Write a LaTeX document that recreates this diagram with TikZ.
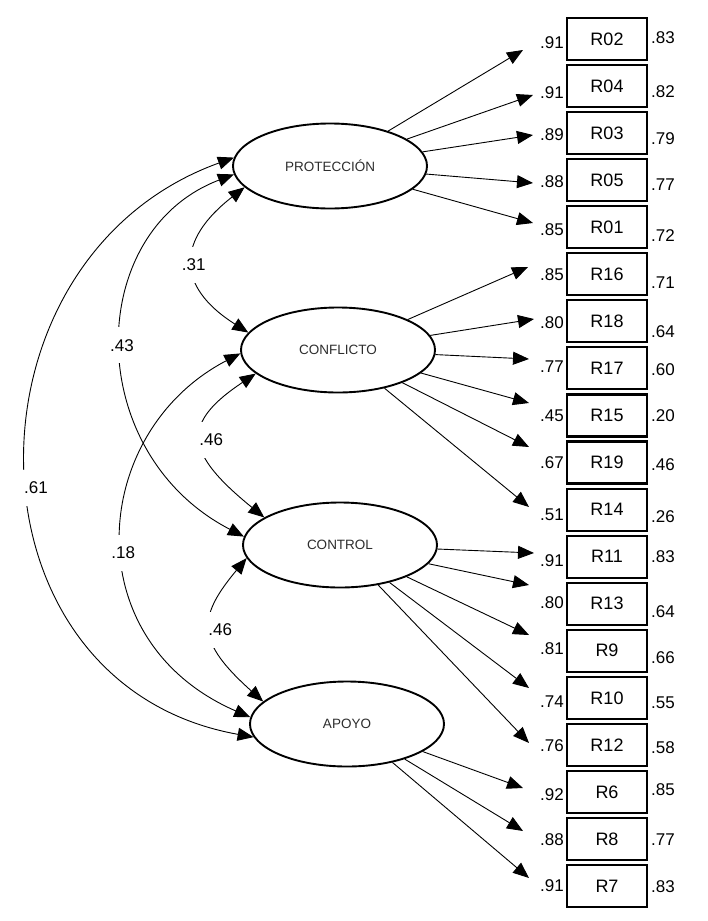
\documentclass[tikz,border=0pt]{standalone}
\usepackage{fontspec}
\setmainfont{Liberation Sans}
\usepackage{tikz}
\usetikzlibrary{arrows,arrows.meta,shapes,positioning}
\definecolor{semgray}{RGB}{45,45,45}
\tikzstyle{latent} = [ellipse, draw, line width=1.9pt, minimum width=194pt, minimum height=85pt, inner sep=0pt, text=semgray, font=\fontsize{13.5}{15}\selectfont]
\tikzstyle{item} = [rectangle, draw, line width=2.1pt, minimum width=80pt, minimum height=42pt, inner sep=0pt, font=\fontsize{18}{20}\selectfont]
\tikzstyle{num} = [inner sep=1pt, font=\fontsize{17}{19}\selectfont]
\tikzstyle{load} = [line width=0.9pt, -{Triangle[length=16pt,width=13pt]}]
\tikzstyle{covar} = [line width=0.9pt, {Triangle[length=16pt,width=13pt]}-{Triangle[length=16pt,width=13pt]}]
\tikzstyle{corr} = [num, fill=white, inner ysep=12pt, inner xsep=3pt]

\begin{document}
\begin{tikzpicture}[x=1pt, y=-1pt]
\useasboundingbox (0,0) rectangle (707,921);
% Latent factors
\node[latent] (prot) at (330,166) {PROTECCIÓN};
\node[latent] (conf) at (338,350) {CONFLICTO};
\node[latent] (ctrl) at (340,545) {CONTROL};
\node[latent] (apoyo) at (347,724) {APOYO};
% Items, loadings and R2
\foreach \rr/\lat/\tx/\ty/\lv/\ly/\rv/\ry [count=\i from 0] in {
  R02/prot/523/50/.91/43/.83/38,
  R04/prot/533/95/.91/93/.82/92,
  R03/prot/533/135/.89/135/.79/139,
  R05/prot/533/183/.88/182/.77/185,
  R01/prot/533/223/.85/230/.72/236,
  R16/conf/528/267/.85/275/.71/283,
  R18/conf/534/319/.80/323/.64/332,
  R17/conf/529/359/.77/367/.60/370,
  R15/conf/529/403/.45/416/.20/416,
  R19/conf/529/447/.67/463/.46/465,
  R14/conf/529/507/.51/515/.26/517,
  R11/ctrl/534/553/.91/561/.83/557,
  R13/ctrl/529/585/.80/603/.64/612,
  R9/ctrl/529/635/.81/649/.66/658,
  R10/ctrl/529/688/.74/702/.55/703,
  R12/ctrl/529/743/.76/746/.58/748,
  R6/apoyo/523/788/.92/795/.85/790,
  R8/apoyo/523/831/.88/840/.77/840,
  R7/apoyo/529/878/.91/886/.83/887}
{
  \node[item] (\rr) at (607,{39+47.06*\i}) {\rr};
  \coordinate (t\rr) at (\tx,\ty);
  \draw[load] (\lat) -- (t\rr);
  \node[num, anchor=east] (l\rr) at (565,\ly) {\lv};
  \node[num, anchor=west] (r\rr) at (650,\ry) {\rv};
}
% Correlations
\draw[covar] (prot.175) .. controls +(-280,101) and +(-297,-53) .. (apoyo.188)
  node[corr, pos=0.53, anchor=west, xshift=-8pt] (c61) {.61};
\draw[covar] (prot.185) .. controls +(-150,57) and +(-162,-84) .. (ctrl.175)
  node[corr, pos=0.5] (c43) {.43};
\draw[covar] (prot.194) .. controls +(-67,52) and +(-74,-47) .. (conf.169)
  node[corr, pos=0.52] (c31) {.31};
\draw[covar] (conf.182) .. controls +(-150,78) and +(-177,-77) .. (apoyo.176)
  node[corr, pos=0.54] (c18) {.18};
\draw[covar] (conf.196) .. controls +(-75,50) and +(-80,-65) .. (ctrl.160)
  node[corr, pos=0.5, anchor=west, xshift=-6pt] (c46a) {.46};
\draw[covar] (ctrl.188) .. controls +(-50,60) and +(-67,-60) .. (apoyo.165)
  node[corr, pos=0.5, anchor=west, xshift=-6pt] (c46b) {.46};
\end{tikzpicture}
\end{document}
